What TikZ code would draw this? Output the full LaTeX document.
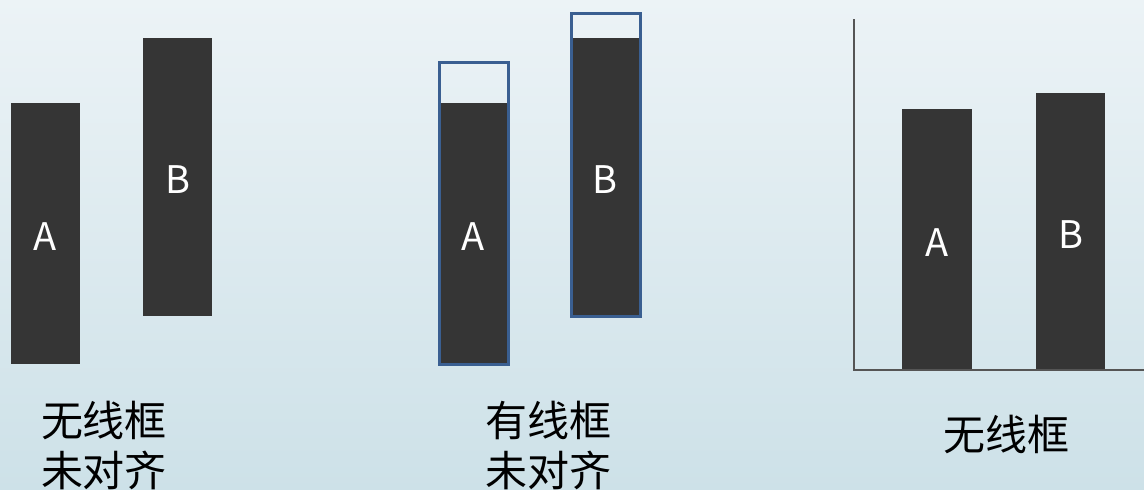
\documentclass[tikz,border=0pt]{standalone}
\usepackage{fontspec}
\setmainfont{Noto Sans CJK SC}
\usepackage{tikz}
\usetikzlibrary{positioning}
\definecolor{bgtop}{RGB}{236,243,246}
\definecolor{bgbottom}{RGB}{205,225,232}
\definecolor{bardark}{RGB}{53,53,53}
\definecolor{frameblue}{RGB}{58,95,145}
\definecolor{axisgray}{RGB}{85,85,85}
\tikzset{
    x=1pt, y=-1pt, % one unit is one pixel of the slide, y runs down
    bar/.style={rectangle, fill=bardark, inner sep=0pt, text=white, text height=33pt,
        font=\fontsize{38}{38}\selectfont}, % the dark columns with their letter
    frame/.style={rectangle, draw=frameblue, line width=3pt, inner sep=0pt}, % the blue outline round a column
    axis/.style={draw=axisgray, line width=2pt}, % the chart axes
    caption/.style={align=center, font=\fontsize{42}{50}\selectfont}, % the text under each group
}

\begin{document}
\begin{tikzpicture}
        \useasboundingbox (0,0) rectangle (1144,490);
        \shade[top color=bgtop, bottom color=bgbottom] (0,0) rectangle (1144,490);

        % no frame, not aligned
        \node[bar, minimum width=69, minimum height=261] (LA) at (45.5,233.5) {A};
        \node[bar, minimum width=69, minimum height=278] (LB) at (177.5,177) {B};
        \node[caption] (LText) at (104,445) {无线框\\未对齐};

        % with frame, not aligned
        \node[bar, minimum width=69, minimum height=261] (MA) at (473.5,233.5) {A};
        \node[bar, minimum width=70, minimum height=278] (MB) at (605,177) {B};
        \node[frame, minimum width=69, minimum height=302] (MAframe) at (473.5,213) {};
        \node[frame, minimum width=69, minimum height=303] (MBframe) at (605.5,164.5) {};
        \node[caption] (MText) at (548.5,445) {有线框\\未对齐};

        % chart with axes
        \coordinate (top) at (854,19);
        \coordinate (origin) at (854,370);
        \coordinate (xend) at (1144,370);
        \node[bar, minimum width=70, minimum height=261] (RA) at (937,239.5) {A};
        \node[bar, minimum width=69, minimum height=277] (RB) at (1070.5,231.5) {B};
        \draw[axis] (top) -- (origin) -- (xend);
        \node[caption] (RText) at (1006,434) {无线框};
    \end{tikzpicture}
\end{document}
